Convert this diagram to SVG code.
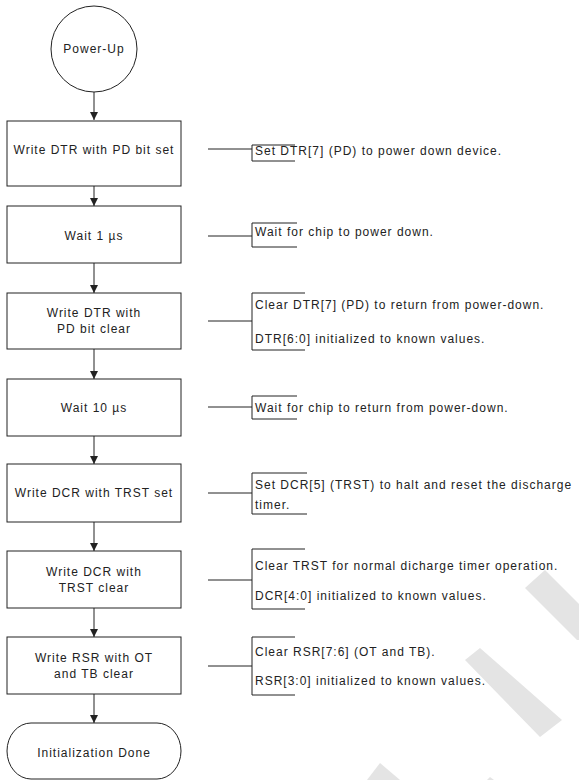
<svg xmlns="http://www.w3.org/2000/svg" width="579" height="780" viewBox="0 0 579 780">
<style>
  .shape { fill: #fff; stroke: #222; stroke-width: 1; }
  .conn { fill: none; stroke: #222; stroke-width: 1; }
  .t { font-family: "Liberation Sans", Arial, sans-serif; font-size: 12px; letter-spacing: 1px; fill: #222; }
  .c { text-anchor: middle; }
  .wm { fill: #e4e4e4; stroke: none; }
</style>
<defs>
  <marker id="ah" viewBox="0 0 8 8" refX="8" refY="4" markerWidth="8" markerHeight="8" markerUnits="userSpaceOnUse" orient="auto">
    <path d="M0,0 L8,4 L0,8 Z" fill="#222"/>
  </marker>
</defs>
<rect width="579" height="780" fill="#fff"/>
<g id="watermark">
  <polygon class="wm" points="525,588 545,570 579,604 579,640 577,640"/>
  <polygon class="wm" points="465,660 480,648 562,720 540,737"/>
  <polygon class="wm" points="380,763 400,780 367,780"/>
  <polygon class="wm" points="490,777 494,780 487,780"/>
</g>
<g id="connectors">
  <line class="conn" x1="94" y1="92" x2="94" y2="120" marker-end="url(#ah)"/>
  <line class="conn" x1="94" y1="186" x2="94" y2="206" marker-end="url(#ah)"/>
  <line class="conn" x1="94" y1="263" x2="94" y2="293" marker-end="url(#ah)"/>
  <line class="conn" x1="94" y1="349" x2="94" y2="379" marker-end="url(#ah)"/>
  <line class="conn" x1="94" y1="436" x2="94" y2="464" marker-end="url(#ah)"/>
  <line class="conn" x1="94" y1="522" x2="94" y2="551" marker-end="url(#ah)"/>
  <line class="conn" x1="94" y1="608" x2="94" y2="637" marker-end="url(#ah)"/>
  <line class="conn" x1="94" y1="694" x2="94" y2="723" marker-end="url(#ah)"/>
  <line class="conn" x1="208" y1="149" x2="252" y2="149"/>
  <line class="conn" x1="208" y1="236" x2="252" y2="236"/>
  <line class="conn" x1="208" y1="321" x2="252" y2="321"/>
  <line class="conn" x1="208" y1="407" x2="252" y2="407"/>
  <line class="conn" x1="208" y1="493" x2="252" y2="493"/>
  <line class="conn" x1="208" y1="580" x2="252" y2="580"/>
  <line class="conn" x1="208" y1="666" x2="252" y2="666"/>
</g>
<g id="start">
  <circle class="shape" cx="94" cy="49" r="43"/>
  <text class="t c" x="94" y="53">Power-Up</text>
</g>
<g id="step1">
  <rect class="shape" x="7" y="121" width="174" height="65"/>
  <text class="t c" x="94" y="154">Write DTR with PD bit set</text>
</g>
<g id="step2">
  <rect class="shape" x="7" y="206" width="174" height="57"/>
  <text class="t c" x="94" y="240">Wait 1 µs</text>
</g>
<g id="step3">
  <rect class="shape" x="7" y="293" width="174" height="56"/>
  <text class="t c" x="94" y="317">Write DTR with</text>
  <text class="t c" x="94" y="333">PD bit clear</text>
</g>
<g id="step4">
  <rect class="shape" x="7" y="379" width="174" height="57"/>
  <text class="t c" x="94" y="412">Wait 10 µs</text>
</g>
<g id="step5">
  <rect class="shape" x="7" y="464" width="174" height="58"/>
  <text class="t c" x="94" y="497">Write DCR with TRST set</text>
</g>
<g id="step6">
  <rect class="shape" x="7" y="551" width="174" height="57"/>
  <text class="t c" x="94" y="576">Write DCR with</text>
  <text class="t c" x="94" y="592">TRST clear</text>
</g>
<g id="step7">
  <rect class="shape" x="7" y="637" width="174" height="57"/>
  <text class="t c" x="94" y="662">Write RSR with OT</text>
  <text class="t c" x="94" y="678">and TB clear</text>
</g>
<g id="done">
  <path class="shape" d="M31,723 L157,723 A24,28 0 0 1 157,779 L31,779 A24,28 0 0 1 31,723 Z"/>
  <text class="t c" x="94" y="757">Initialization Done</text>
</g>
<g id="note1">
  <path class="conn" d="M295,145 H252 V161 H295"/>
  <text class="t" x="255" y="155">Set DTR[7] (PD) to power down device.</text>
</g>
<g id="note2">
  <path class="conn" d="M297,223 H252 V247 H297"/>
  <text class="t" x="255" y="236">Wait for chip to power down.</text>
</g>
<g id="note3">
  <path class="conn" d="M305,293 H252 V350 H305"/>
  <text class="t" x="255" y="309">Clear DTR[7] (PD) to return from power-down.</text>
  <text class="t" x="255" y="343">DTR[6:0] initialized to known values.</text>
</g>
<g id="note4">
  <path class="conn" d="M297,396 H252 V419 H297"/>
  <text class="t" x="255" y="412">Wait for chip to return from power-down.</text>
</g>
<g id="note5">
  <path class="conn" d="M307,473 H252 V514 H307"/>
  <text class="t" x="255" y="489">Set DCR[5] (TRST) to halt and reset the discharge</text>
  <text class="t" x="255" y="509">timer.</text>
</g>
<g id="note6">
  <path class="conn" d="M305,549 H252 V609 H305"/>
  <text class="t" x="255" y="570">Clear TRST for normal dicharge timer operation.</text>
  <text class="t" x="255" y="600">DCR[4:0] initialized to known values.</text>
</g>
<g id="note7">
  <path class="conn" d="M295,637 H252 V695 H295"/>
  <text class="t" x="255" y="656">Clear RSR[7:6] (OT and TB).</text>
  <text class="t" x="255" y="685">RSR[3:0] initialized to known values.</text>
</g>
</svg>
